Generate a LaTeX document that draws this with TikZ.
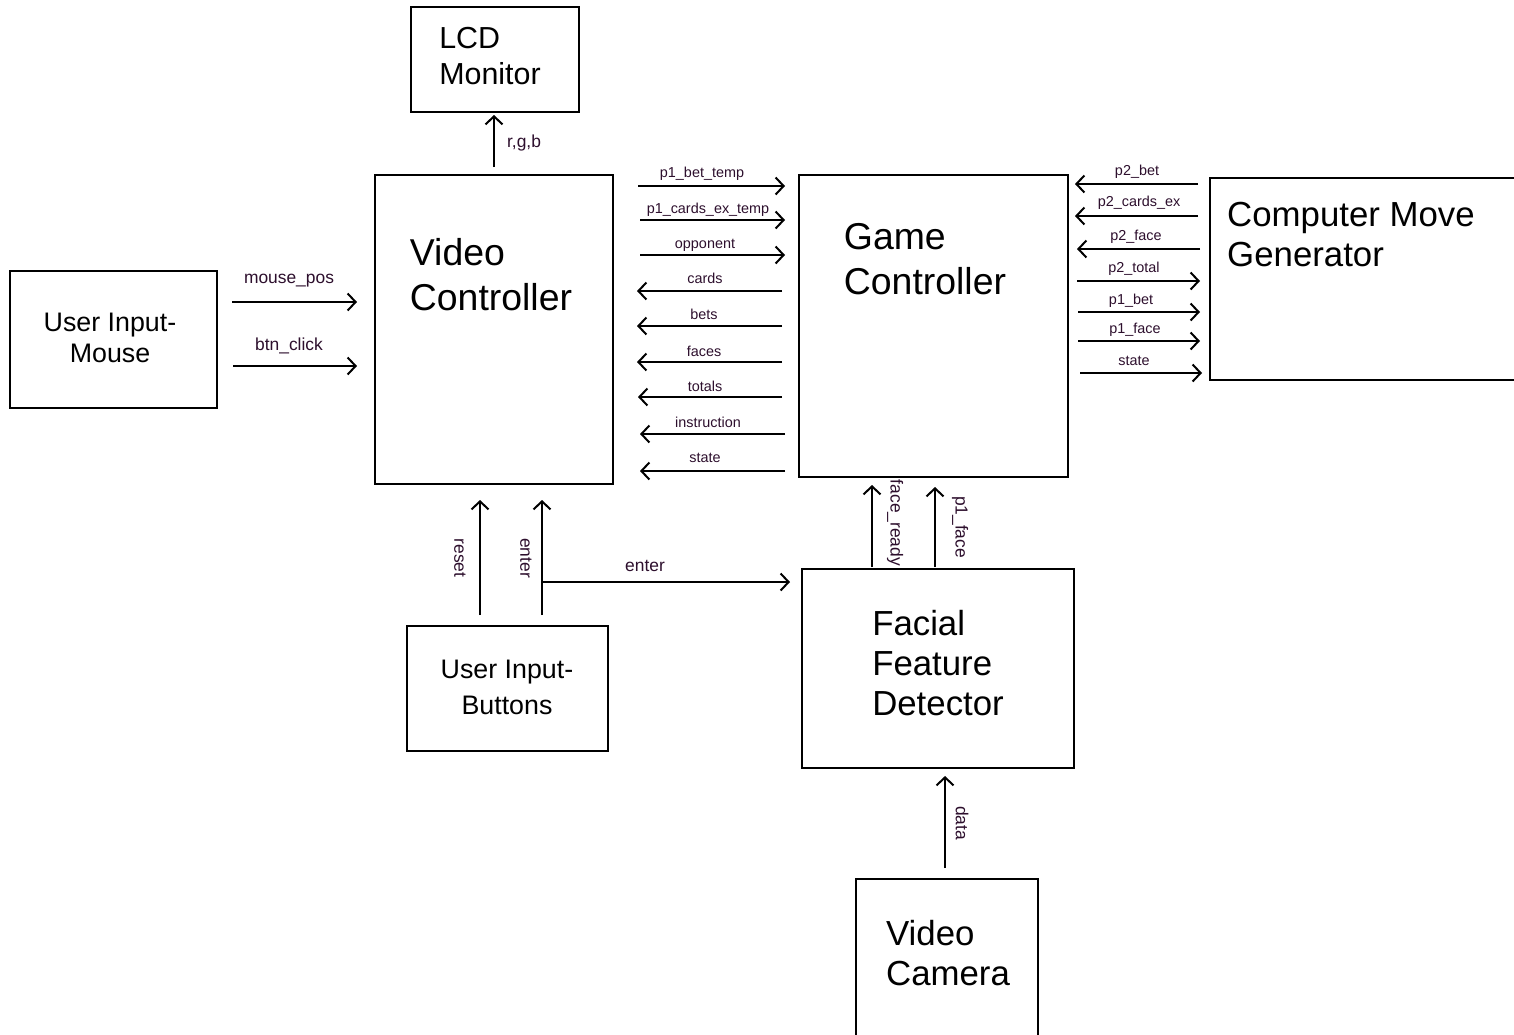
\documentclass[tikz,border=0pt]{standalone}
\usepackage{fontspec}
\setmainfont{Liberation Sans}
\usetikzlibrary{arrows.meta}
\definecolor{labc}{RGB}{45,15,45}
\begin{document}
\begin{tikzpicture}[x=0.5pt,y=-0.5pt,
  box/.style={draw, line width=0.6pt, inner sep=0pt},
  sig/.style={line width=1pt, -{Straight Barb[length=4pt,width=8.5pt,line width=1pt]}},
  lbl/.style={inner sep=0pt, text=labc, font=\fontsize{7.2}{8.5}\selectfont},
  mlbl/.style={inner sep=0pt, text=labc, font=\fontsize{8.7}{10}\selectfont},
  big/.style={inner sep=0pt, align=left, font=\fontsize{18.7}{22.5}\selectfont},
  mid/.style={inner sep=0pt, align=left, font=\fontsize{17.4}{20}\selectfont},
  small/.style={inner sep=0pt, align=center, font=\fontsize{13.4}{15.5}\selectfont}]
\useasboundingbox (0,0) rectangle (1514,1034);
\fill[white] (0,0) rectangle (1514,1034);
\clip (0,0) rectangle (1514,1034);

% boxes
\node[box, minimum width=84pt, minimum height=52.5pt] (lcd) at (495,59.5) {};
\node[box, minimum width=119pt, minimum height=154.5pt] (vc) at (494,329.5) {};
\node[box, minimum width=134.5pt, minimum height=151pt] (gc) at (933.5,326) {};
\node[box, minimum width=155pt, minimum height=101pt] (cmg) at (1365,279) {};
\node[box, minimum width=103.5pt, minimum height=68.5pt] (uim) at (113.5,339.5) {};
\node[box, minimum width=100.5pt, minimum height=62.5pt] (uib) at (507.5,688.5) {};
\node[box, minimum width=136pt, minimum height=99.5pt] (ffd) at (938,668.5) {};
\node[box, minimum width=91pt, minimum height=80.5pt] (cam) at (947,959.5) {};

% box texts
\node[inner sep=0pt, align=left, font=\fontsize{15.2}{18}\selectfont] (lcdt) at (490,56) {LCD\\Monitor};
\node[big] (vct) at (491,275) {Video\\Controller};
\node[big] (gct) at (925,259) {Game\\Controller};
\node[mid] (cmgt) at (1351,235) {Computer Move\\Generator};
\node[small] (uimt) at (110,338) {User Input-\\Mouse};
\node[small, font=\fontsize{13.4}{18}\selectfont] (uibt) at (507,687) {User Input-\\Buttons};
\node[mid] (ffdt) at (938,663) {Facial\\Feature\\Detector};
\node[mid] (camt) at (948,953) {Video\\Camera};

% horizontal signal arrows: name/x-start/x-end/y/label/label-x/label-y
\foreach \n/\xa/\xb/\y/\t/\lx/\ly in {
  a1/638/785/186/p1\_bet\_temp/702/174,
  a2/640/785/220/p1\_cards\_ex\_temp/708/210,
  a3/640/785/255/opponent/705/245,
  a4/782/637/291/cards/705/278,
  a5/782/637/326/bets/704/314,
  a6/782/637/362/faces/704/351,
  a7/782/638/397/totals/705/386,
  a8/785/640/434/instruction/708/422,
  a9/785/640/471/state/705/458,
  b1/1198/1075/184/p2\_bet/1137/172,
  b2/1198/1075/216/p2\_cards\_ex/1139/203,
  b3/1200/1077/249/p2\_face/1136/237,
  b4/1077/1200/281/p2\_total/1134/269,
  b5/1078/1200/312/p1\_bet/1131/301,
  b6/1078/1200/341/p1\_face/1135/330,
  b7/1080/1202/373/state/1134/361}{
  \coordinate (\n s) at (\xa,\y);
  \coordinate (\n e) at (\xb,\y);
  \draw[sig] (\n s) -- (\n e);
  \node[lbl] (\n l) at (\lx,\ly) {\t};
}

% mouse arrows and enter branch
\foreach \n/\xa/\xb/\y/\t/\lx/\ly in {
  m1/232/357/302/mouse\_pos/289/281,
  m2/233/357/366/btn\_click/289/346,
  e1/542/790/582/enter/645/566}{
  \coordinate (\n s) at (\xa,\y);
  \coordinate (\n e) at (\xb,\y);
  \draw[sig] (\n s) -- (\n e);
  \node[mlbl] (\n l) at (\lx,\ly) {\t};
}

% vertical arrows: name/x/y-start/y-end/label/label-x/label-y/rotation
\foreach \n/\x/\ya/\yb/\t/\lx/\ly/\r in {
  v1/494/167/115/{r,g,b}/524/143/0,
  v2/480/615/500/reset/460/558/-90,
  v3/542/615/500/enter/526/558/-90,
  v4/872/567/485/face\_ready/895/523/-90,
  v5/935/567/487/p1\_face/960/527/-90,
  v6/945/868/776/data/962/823/-90}{
  \coordinate (\n s) at (\x,\ya);
  \coordinate (\n e) at (\x,\yb);
  \draw[sig] (\n s) -- (\n e);
  \node[mlbl, rotate=\r] (\n l) at (\lx,\ly) {\t};
}
\end{tikzpicture}
\end{document}
